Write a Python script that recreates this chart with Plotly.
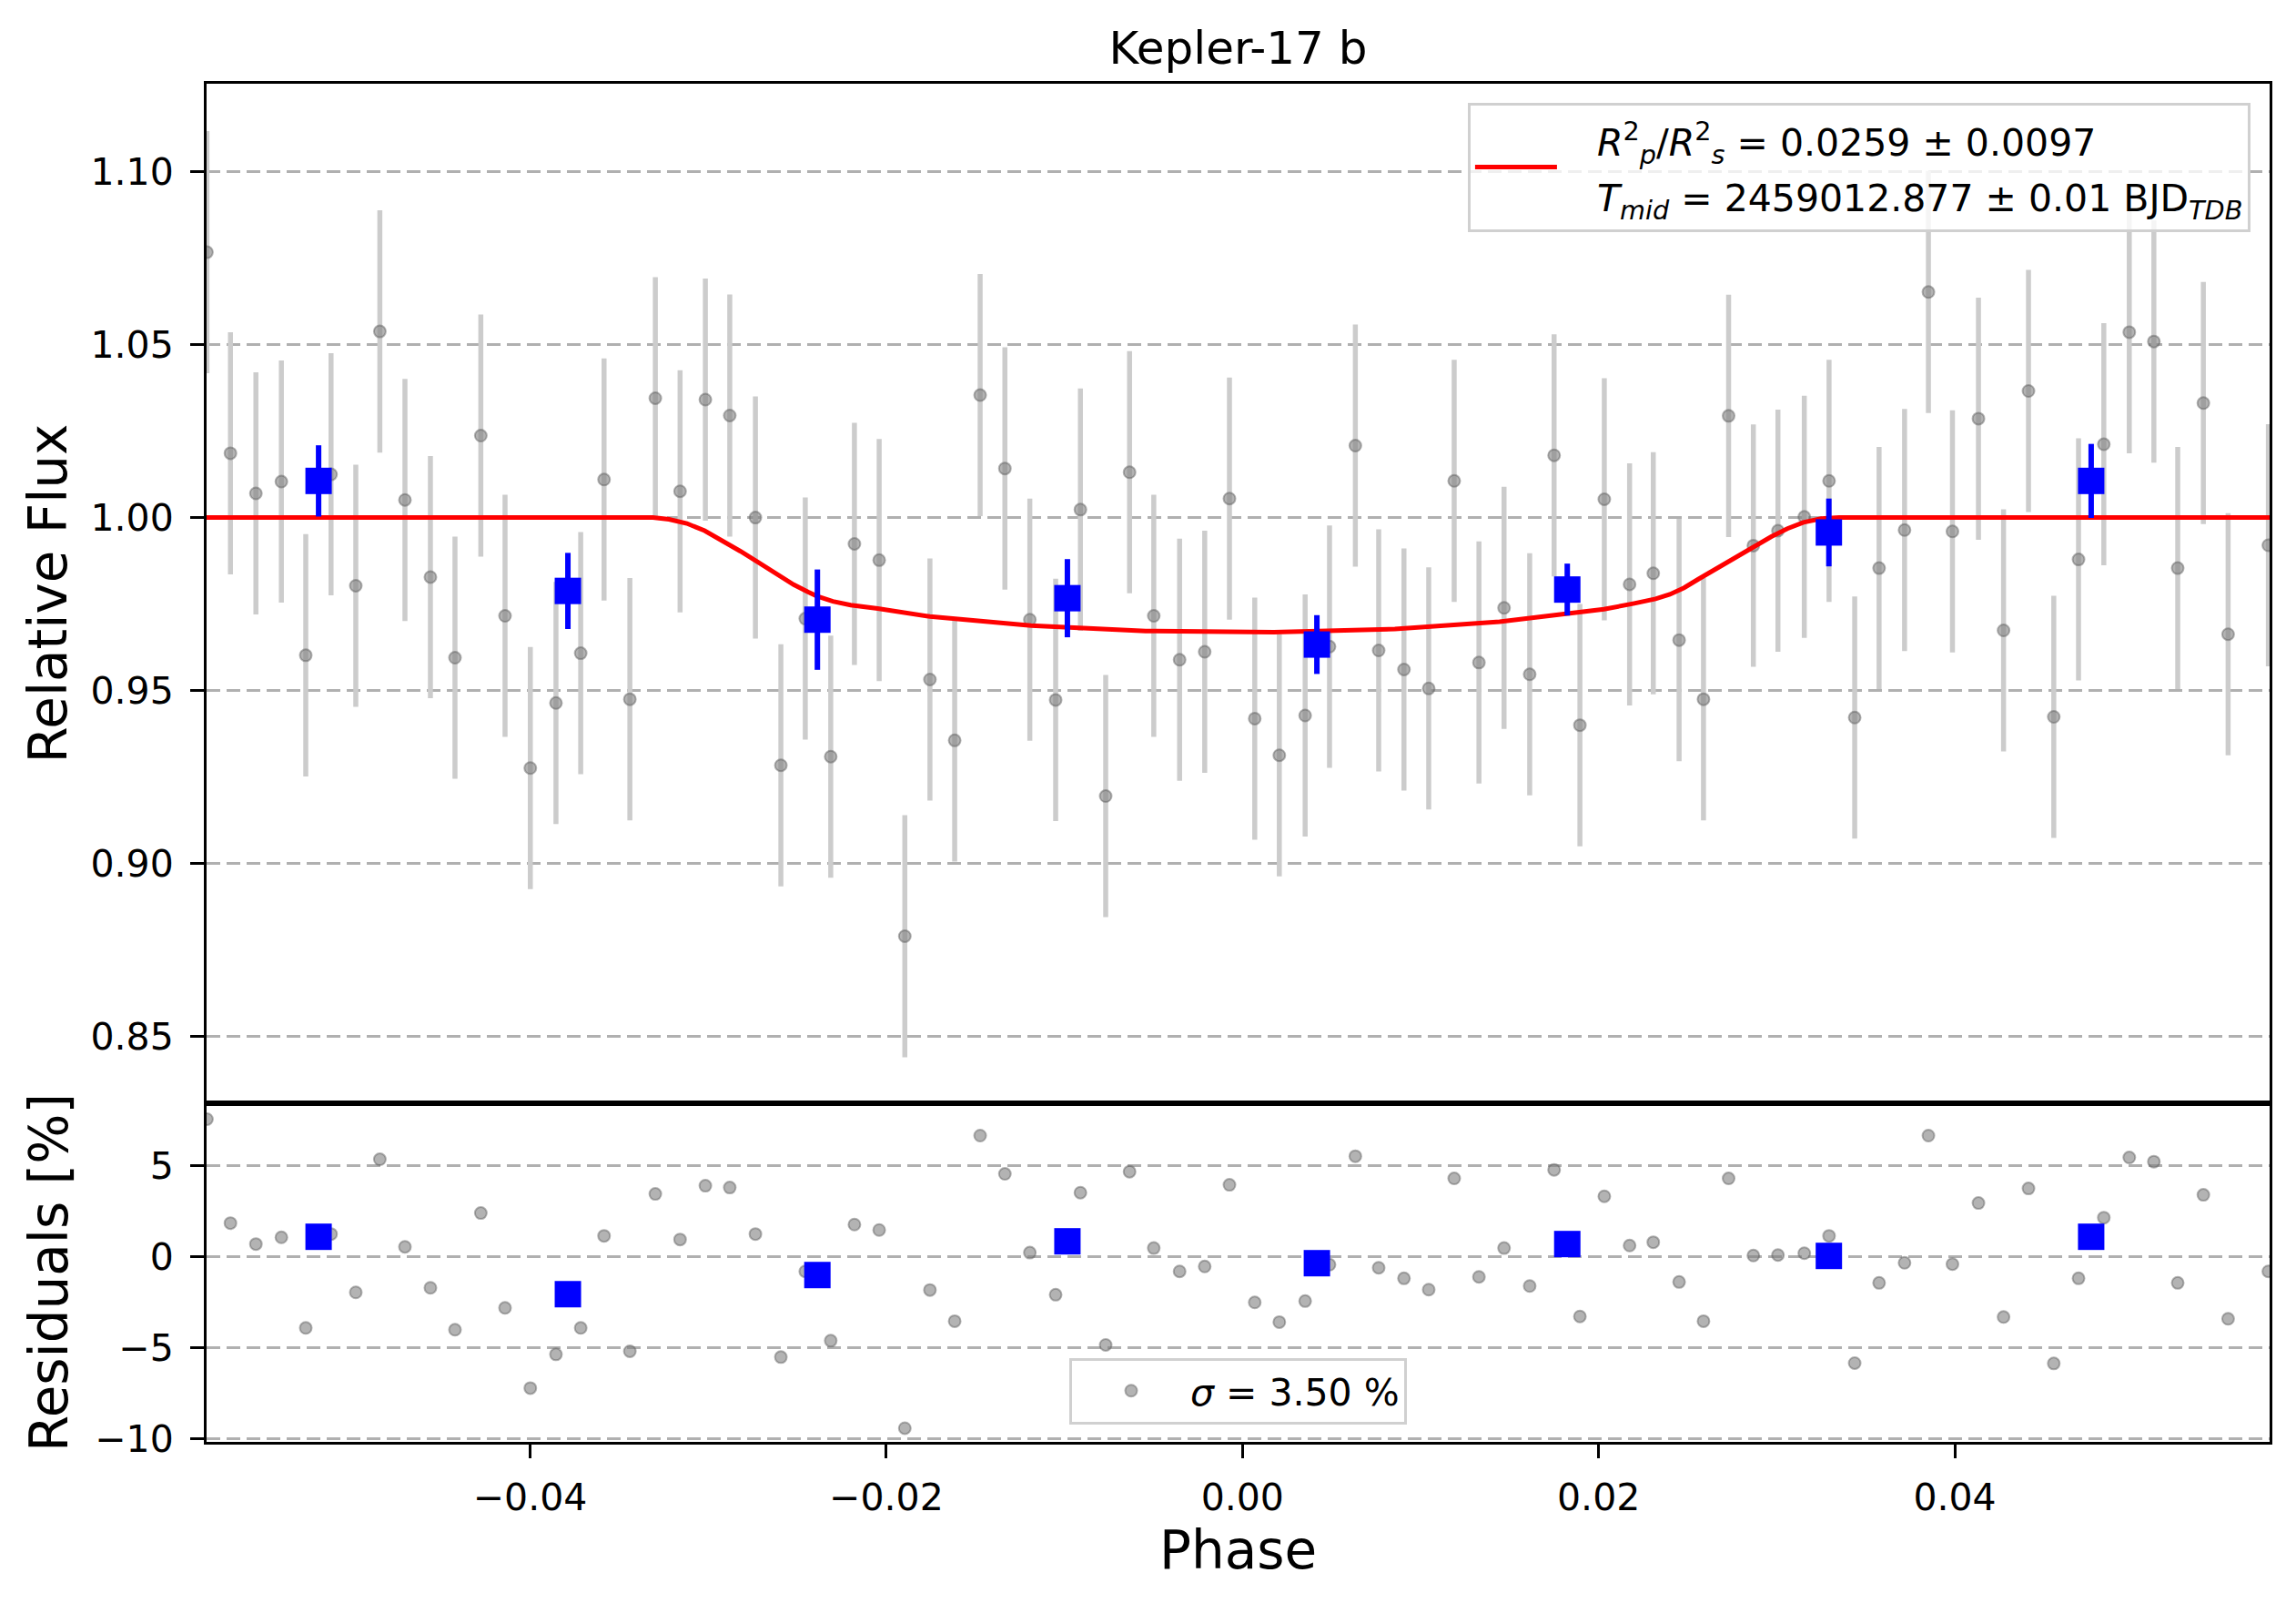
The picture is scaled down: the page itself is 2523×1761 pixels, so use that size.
import plotly.graph_objects as go

# ---------------- data ----------------
PHASE = [-0.05815, -0.05683, -0.05540, -0.05397, -0.05260, -0.05118, -0.04979, -0.04844,
         -0.04703, -0.04560, -0.04422, -0.04277, -0.04141, -0.03999, -0.03855, -0.03716,
         -0.03585, -0.03440, -0.03297, -0.03158, -0.03016, -0.02879, -0.02735, -0.02592,
         -0.02455, -0.02312, -0.02179, -0.02040, -0.01896, -0.01755, -0.01616, -0.01473,
         -0.01334, -0.01194, -0.01049, -0.00910, -0.00768, -0.00634, -0.00498, -0.00353,
         -0.00212, -0.00073, 0.00069, 0.00207, 0.00352, 0.00489, 0.00634, 0.00765,
         0.00907, 0.01046, 0.01189, 0.01328, 0.01469, 0.01613, 0.01750, 0.01895,
         0.02032, 0.02174, 0.02307, 0.02452, 0.02589, 0.02730, 0.02869, 0.03007,
         0.03155, 0.03294, 0.03438, 0.03575, 0.03718, 0.03852, 0.03987, 0.04133,
         0.04274, 0.04414, 0.04556, 0.04695, 0.04837, 0.04980, 0.05118, 0.05252,
         0.05396, 0.05535, 0.05761]

FLUX = [1.0767, 1.0186, 1.0070, 1.0104, 0.9602, 1.0125, 0.9803, 1.0538,
        1.0051, 0.9828, 0.9595, 1.0237, 0.9716, 0.9276, 0.9464, 0.9608,
        1.0110, 0.9475, 1.0345, 1.0076, 1.0341, 1.0295, 1.0000, 0.9284,
        0.9708, 0.9309, 0.9924, 0.9877, 0.8790, 0.9532, 0.9356, 1.0354,
        1.0142, 0.9705, 0.9473, 1.0023, 0.9195, 1.0131, 0.9716, 0.9589,
        0.9612, 1.0055, 0.9419, 0.9313, 0.9428, 0.9627, 1.0208, 0.9616,
        0.9561, 0.9506, 1.0106, 0.9581, 0.9739, 0.9547, 1.0180, 0.9400,
        1.0053, 0.9807, 0.9839, 0.9646, 0.9475, 1.0294, 0.9919, 0.9962,
        1.0002, 1.0106, 0.9422, 0.9854, 0.9964, 1.0652, 0.9960, 1.0286,
        0.9674, 1.0366, 0.9424, 0.9879, 1.0212, 1.0536, 1.0509, 0.9854,
        1.0331, 0.9663, 0.9920]

FLUX_ERR = 0.035

RESID = [7.55, 1.85, 0.70, 1.07, -3.9, 1.25, -1.95, 5.35, 0.55, -1.70,
         -4.0, 2.40, -2.80, -7.2, -5.35, -3.9, 1.15, -5.18, 3.45, 0.95,
         3.9, 3.8, 1.25, -5.5, -0.8, -4.6, 1.77, 1.47, -9.4, -1.82,
         -3.53, 6.65, 4.55, 0.23, -2.08, 3.52, -4.83, 4.67, 0.48, -0.8,
         -0.53, 3.95, -2.5, -3.58, -2.43, -0.43, 5.52, -0.6, -1.18, -1.8,
         4.3, -1.1, 0.48, -1.6, 4.77, -3.27, 3.32, 0.62, 0.8, -1.38,
         -3.53, 4.3, 0.07, 0.1, 0.2, 1.15, -5.83, -1.43, -0.33, 6.65,
         -0.4, 2.95, -3.3, 3.75, -5.85, -1.18, 2.15, 5.45, 5.22, -1.43,
         3.4, -3.4, -0.8]

BIN_PHASE = [-0.05188, -0.03788, -0.02387, -0.00983, 0.00418, 0.01824, 0.03293, 0.04766]
BIN_FLUX = [1.0106, 0.9788, 0.9705, 0.9767, 0.9633, 0.9792, 0.9957, 1.0106]
BIN_ERR = [0.0103, 0.0110, 0.0145, 0.0113, 0.0085, 0.0075, 0.0098, 0.0107]
BIN_RESID = [1.10, -2.05, -1.00, 0.85, -0.35, 0.70, 0.05, 1.10]

MODEL_PHASE = [-0.05817, -0.03311, -0.0322, -0.0312, -0.0302, -0.0292, -0.0282,
               -0.0272, -0.0262, -0.0252, -0.0244, -0.0239, -0.0230, -0.0220,
               -0.02048, -0.01755, -0.01187, -0.00543, 0.00177, 0.00856,
               0.01444, 0.01834, 0.0203, 0.0220, 0.0232, 0.0240, 0.0248,
               0.0256, 0.0266, 0.0276, 0.0287, 0.0297, 0.0306, 0.0315,
               0.0325, 0.0335, 0.05768]
MODEL_FLUX = [1.0000, 1.0000, 0.9995, 0.9983, 0.9962, 0.9934, 0.9903,
              0.9871, 0.9838, 0.9806, 0.9785, 0.9773, 0.9758, 0.9747,
              0.9737, 0.9714, 0.9688, 0.9672, 0.9669, 0.9678,
              0.9699, 0.9722, 0.9735, 0.9752, 0.9765, 0.9778, 0.9797,
              0.9822, 0.9852, 0.9882, 0.9915, 0.9945, 0.9968, 0.9986,
              0.9997, 1.0000, 1.0000]

TITLE = "Kepler-17 b"
MODEL_LABEL = ('<span style="font-size:41px">&nbsp;&nbsp;&nbsp;'
               "<i>R</i><sup>2</sup><sub><i>p</i></sub>/<i>R</i><sup>2</sup><sub><i>s</i></sub>"
               " = 0.0259 ± 0.0097</span><br>"
               '<span style="font-size:41px">&nbsp;&nbsp;&nbsp;'
               "<i>T</i><sub><i>mid</i></sub> = 2459012.877 ± 0.01 BJD<sub><i>TDB</i></sub></span>")
SIGMA_LABEL = "<i>σ</i> = 3.50 %"
FLUX_TICKS = [0.85, 0.90, 0.95, 1.00, 1.05, 1.10]
RES_TICKS = [-10, -5, 0, 5]
PHASE_TICKS = [-0.04, -0.02, 0.00, 0.02, 0.04]

# ---------------- styling ----------------
FONT = "DejaVu Sans"
GRAY_MARKER = dict(symbol="circle", size=13, color="rgba(128,128,128,0.6)",
                   line=dict(color="rgba(90,90,90,0.45)", width=2))
XR = [-0.05817, 0.05768]

fig = go.Figure()

fig.add_trace(go.Scatter(
    x=PHASE, y=FLUX, mode="markers", marker=GRAY_MARKER,
    error_y=dict(type="constant", value=FLUX_ERR, color="#cccccc", thickness=5.5, width=0),
    showlegend=False, xaxis="x", yaxis="y"))

fig.add_trace(go.Scatter(
    x=MODEL_PHASE, y=MODEL_FLUX, mode="lines", line=dict(color="#ff0000", width=5),
    name=MODEL_LABEL, legend="legend", xaxis="x", yaxis="y"))

fig.add_trace(go.Scatter(
    x=BIN_PHASE, y=BIN_FLUX, mode="markers",
    marker=dict(symbol="square", size=29, color="#0000ff"),
    error_y=dict(type="data", array=BIN_ERR, color="#0000ff", thickness=6, width=0),
    showlegend=False, xaxis="x", yaxis="y"))

fig.add_trace(go.Scatter(
    x=PHASE, y=RESID, mode="markers", marker=GRAY_MARKER,
    name=SIGMA_LABEL, legend="legend2", xaxis="x2", yaxis="y2"))

fig.add_trace(go.Scatter(
    x=BIN_PHASE, y=BIN_RESID, mode="markers",
    marker=dict(symbol="square", size=29, color="#0000ff"),
    showlegend=False, xaxis="x2", yaxis="y2"))

axis_common = dict(showline=True, linecolor="black", linewidth=3, mirror=True,
                   zeroline=False, tickcolor="black", tickwidth=3, ticklen=15,
                   tickfont=dict(family=FONT, size=41, color="black"))

BOTTOM_FRAC = 0.2493

fig.update_layout(
    width=2523, height=1761,
    margin=dict(l=227, r=29, t=92, b=177),
    paper_bgcolor="white", plot_bgcolor="white",
    font=dict(family=FONT, color="black"),
    title=dict(text=TITLE, font=dict(family=FONT, size=50, color="black"),
               x=0.5, xref="paper", xanchor="center",
               y=1 - 52 / 1761, yref="container", yanchor="middle"),
    xaxis=dict(domain=[0, 1], range=XR, anchor="y", showticklabels=False, ticks="",
               showgrid=False, matches="x2", showline=True, linecolor="black",
               linewidth=3, mirror=True, zeroline=False),
    yaxis=dict(domain=[BOTTOM_FRAC, 1], range=[0.8307, 1.1254], anchor="x",
               tickvals=FLUX_TICKS, tickformat=".2f", ticks="outside",
               ticklabelstandoff=10,
               showgrid=True, gridcolor="#b0b0b0", gridwidth=2.5, griddash="15px,7px",
               title=dict(text="Relative Flux", font=dict(family=FONT, size=58, color="black"),
                          standoff=8),
               **axis_common),
    xaxis2=dict(domain=[0, 1], range=XR, anchor="y2", tickvals=PHASE_TICKS, tickformat=".2f",
                ticks="outside", ticklabelstandoff=8, showgrid=False,
                title=dict(text="Phase", font=dict(family=FONT, size=58, color="black"),
                           standoff=12),
                **axis_common),
    yaxis2=dict(domain=[0, BOTTOM_FRAC], range=[-10.15, 8.42], anchor="x2",
                tickvals=RES_TICKS, ticks="outside", ticklabelstandoff=10,
                showgrid=True, gridcolor="#b0b0b0", gridwidth=2.5, griddash="15px,7px",
                title=dict(text="Residuals [%]", font=dict(family=FONT, size=58, color="black"),
                           standoff=11),
                **axis_common),
    legend=dict(x=0.9907, xanchor="right", y=0.986, yanchor="top",
                xref="paper", yref="paper",
                bgcolor="rgba(255,255,255,0.8)", bordercolor="#d0d0d0", borderwidth=3,
                font=dict(family=FONT, size=47, color="black"), itemwidth=90),
    legend2=dict(x=0.5, xanchor="center", y=0.013, yanchor="bottom",
                 xref="paper", yref="paper",
                 bgcolor="rgba(255,255,255,0.8)", bordercolor="#d0d0d0", borderwidth=3,
                 font=dict(family=FONT, size=41, color="black"), itemwidth=120),
    showlegend=True,
)

fig.write_html("out.html", config={"displayModeBar": False},
               post_script="document.body.style.margin='0';document.body.style.overflow='hidden';")
